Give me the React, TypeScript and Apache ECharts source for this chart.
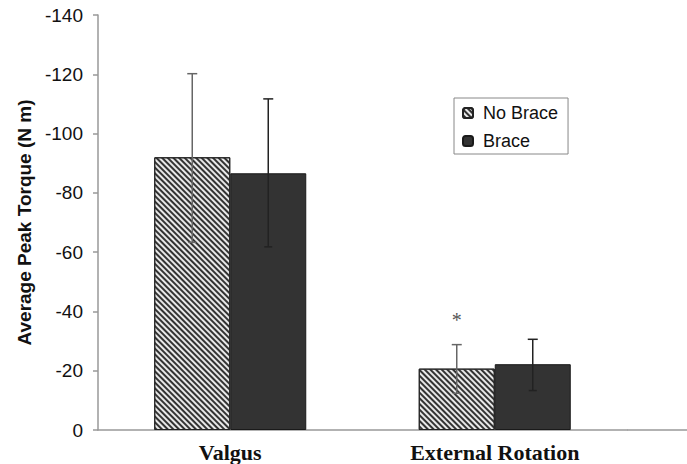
import React, { useEffect, useRef } from "react";
import * as echarts from "echarts";

const categories = ["Valgus", "External Rotation"];
const seriesNames = ["No Brace", "Brace"];
const noBrace = [-92, -20.7];
const brace = [-86.6, -22.2];
// error bar ends [low, high] (low = closer to zero)
const noBraceErr = [[-63.3, -120.2], [-12.4, -28.8]];
const braceErr = [[-61.8, -111.7], [-13.3, -30.6]];
const noBraceSig = ["", "*"];
const yTicks = { min: -140, max: 0, interval: 20 };

export default function App() {
  const ref = useRef<HTMLDivElement>(null);
  useEffect(() => {
    if (!ref.current) return;
    const chart = echarts.init(ref.current, undefined, { renderer: "svg" });
    const barWidth = 76;

    const errSeries = (errs: number[][], offset: number, color: string, sig: string[]) => ({
      type: "custom",
      silent: true,
      z: 10,
      data: errs.map((e, i) => [i, e[0], e[1]]),
      renderItem: (params: any, api: any) => {
        const i = api.value(0);
        const lo = api.coord([i, api.value(1)]);
        const hi = api.coord([i, api.value(2)]);
        const x = lo[0] + offset;
        const children: any[] = [
          { type: "line", shape: { x1: x, y1: lo[1], x2: x, y2: hi[1] }, style: { stroke: color, lineWidth: 1.5 } },
          { type: "line", shape: { x1: x - 5, y1: hi[1], x2: x + 5, y2: hi[1] }, style: { stroke: color, lineWidth: 1.5 } },
          { type: "line", shape: { x1: x - 4, y1: lo[1], x2: x + 4, y2: lo[1] }, style: { stroke: color, lineWidth: 1.5 } },
        ];
        const s = sig[params.dataIndex];
        if (s) {
          children.push({
            type: "text",
            x: x,
            y: hi[1] - 25,
            style: { text: s, fill: "#555", fontSize: 20, fontFamily: "Liberation Serif", align: "center", verticalAlign: "middle" },
          });
        }
        return { type: "group", children };
      },
    });

    chart.setOption({
      animation: false,
      backgroundColor: "#fff",
      grid: { left: 98, right: 60, top: 15, bottom: 34 },
      legend: {
        orient: "vertical",
        left: 454,
        top: 98,
        padding: [6, 10, 4, 8],
        itemGap: 10,
        itemWidth: 10,
        itemHeight: 10,
        borderColor: "#888",
        borderWidth: 1,
        textStyle: { fontSize: 18, color: "#111", fontFamily: "Liberation Sans", padding: [0, 0, 0, 5] },
        data: seriesNames,
      },
      xAxis: {
        type: "category",
        data: categories,
        axisLine: { lineStyle: { color: "#999", width: 1.5 } },
        axisTick: { show: false },
        axisLabel: { fontSize: 22, fontWeight: "bold", fontFamily: "Liberation Serif", color: "#111", margin: 11 },
      },
      yAxis: {
        type: "value",
        inverse: true,
        min: yTicks.min,
        max: yTicks.max,
        interval: yTicks.interval,
        name: "Average Peak Torque (N m)",
        nameLocation: "middle",
        nameRotate: 90,
        nameGap: 63,
        nameTextStyle: { fontSize: 19, fontWeight: "bold", fontFamily: "Liberation Sans", color: "#111" },
        axisLine: { show: true, lineStyle: { color: "#999", width: 1.5 } },
        axisTick: { show: true, length: 5, lineStyle: { color: "#999", width: 1.5 } },
        axisLabel: { fontSize: 19, fontFamily: "Liberation Sans", color: "#111", margin: 15 },
        splitLine: { show: false },
      },
      series: [
        {
          name: seriesNames[0],
          type: "bar",
          data: noBrace,
          barWidth,
          barGap: "0%",
          itemStyle: {
            color: "#e8e8e8",
            borderColor: "#222",
            borderWidth: 1,
            decal: {
              symbol: "rect",
              symbolSize: 1,
              dashArrayX: [1, 0],
              dashArrayY: [2, 2],
              rotation: Math.PI / 4,
              color: "#333",
            },
          },
        },
        {
          name: seriesNames[1],
          type: "bar",
          data: brace,
          barWidth,
          barGap: "0%",
          itemStyle: { color: "#333", borderColor: "#1a1a1a", borderWidth: 1 },
        },
        errSeries(noBraceErr, -barWidth / 2, "#666", noBraceSig),
        errSeries(braceErr, barWidth / 2, "#222", ["", ""]),
      ],
      graphic: [
        { type: "line", shape: { x1: 627, y1: 430, x2: 687, y2: 430 }, style: { stroke: "#999", lineWidth: 1.5 } },
      ],
    });
    return () => chart.dispose();
  }, []);
  return <div ref={ref} style={{ position: "fixed", left: 0, top: 0, width: 687, height: 464 }} />;
}
